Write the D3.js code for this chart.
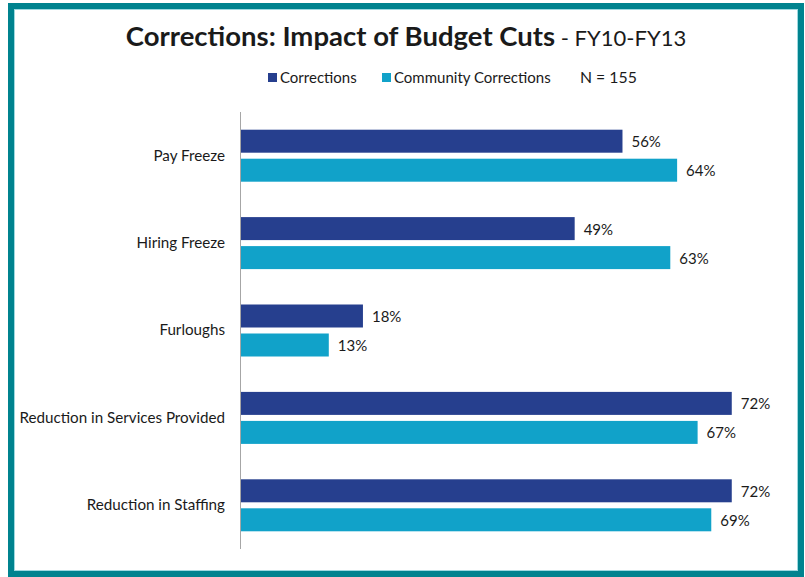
<!DOCTYPE html>
<html>
<head>
<meta charset="utf-8">
<script src="https://cdn.jsdelivr.net/npm/d3@7/dist/d3.min.js"></script>
<style>
  html, body { margin: 0; padding: 0; background: #fff; }
  svg { display: block; }
  text { font-family: Lato, "Open Sans", sans-serif; fill: #1a1a1a; }
</style>
</head>
<body>
<svg id="chart" width="805" height="577"></svg>
<script>
// Survey results: share of respondents reporting each budget-cut impact
const categories = ["Pay Freeze", "Hiring Freeze", "Furloughs", "Reduction in Services Provided", "Reduction in Staffing"];
const seriesNames = ["Corrections", "Community Corrections"];
const corrections = [56, 49, 18, 72, 72];
const communityCorrections = [64, 63, 13, 67, 69];
const colors = ["#263f8e", "#11a2c9"];

const svg = d3.select("#chart");

// Frame
svg.append("rect").attr("x", 11).attr("y", 6).attr("width", 790).attr("height", 568)
  .attr("fill", "#fff").attr("stroke", "#00838f").attr("stroke-width", 6);
svg.append("rect").attr("x", 14.5).attr("y", 9.5).attr("width", 783).attr("height", 561)
  .attr("fill", "none").attr("stroke", "#9ed9e0").attr("stroke-width", 1);

// Title
const title = svg.append("text").attr("x", 406).attr("y", 46).attr("text-anchor", "middle");
title.append("tspan").attr("font-weight", "bold").attr("font-size", 27.5).text("Corrections: Impact of Budget Cuts");
title.append("tspan").attr("font-size", 22).text(" - FY10-FY13");

// Legend
const legendX = [268, 382];
seriesNames.forEach((name, i) => {
  svg.append("rect").attr("x", legendX[i]).attr("y", 73).attr("width", 9).attr("height", 9).attr("fill", colors[i]);
  svg.append("text").attr("x", legendX[i] + 12).attr("y", 83).attr("font-size", 15).text(name);
});
svg.append("text").attr("x", 580).attr("y", 83).attr("font-size", 15.8).text("N = 155");

// Scales
const x0 = 240;
const x = d3.scaleLinear().domain([0, 80]).range([x0, x0 + 80 * 6.83]);
const y = d3.scaleBand().domain(categories).range([112, 549]);
const inner = d3.scaleBand().domain(seriesNames)
  .range([y.bandwidth() / 2 - 26, y.bandwidth() / 2 + 26]).paddingInner(0.207);

const rows = categories.map((c, i) => ({ cat: c, values: [corrections[i], communityCorrections[i]] }));

const g = svg.append("g");
const groups = g.selectAll("g.cat").data(rows).join("g")
  .attr("class", "cat")
  .attr("transform", d => `translate(0,${y(d.cat)})`);

groups.selectAll("rect").data(d => d.values.map((v, i) => ({ v, s: seriesNames[i], i })))
  .join("rect")
  .attr("x", x(0))
  .attr("y", d => inner(d.s))
  .attr("width", d => x(d.v) - x(0))
  .attr("height", inner.bandwidth())
  .attr("fill", d => colors[d.i]);

groups.selectAll("text.val").data(d => d.values.map((v, i) => ({ v, s: seriesNames[i] })))
  .join("text")
  .attr("class", "val")
  .attr("x", d => x(d.v) + 9)
  .attr("y", d => inner(d.s) + inner.bandwidth() / 2 + 6)
  .attr("font-size", 15)
  .text(d => d.v + "%");

// Category axis
const yAxis = svg.append("g").attr("transform", `translate(${x0},0)`)
  .call(d3.axisLeft(y).tickSize(0).tickPadding(15));
yAxis.select(".domain").attr("stroke", "#a6a6a6").attr("d", "M0.5,112V549");
yAxis.selectAll(".tick text").attr("font-size", 15.2).attr("fill", "#1a1a1a")
  .attr("font-family", "Lato, 'Open Sans', sans-serif");
</script>
</body>
</html>
